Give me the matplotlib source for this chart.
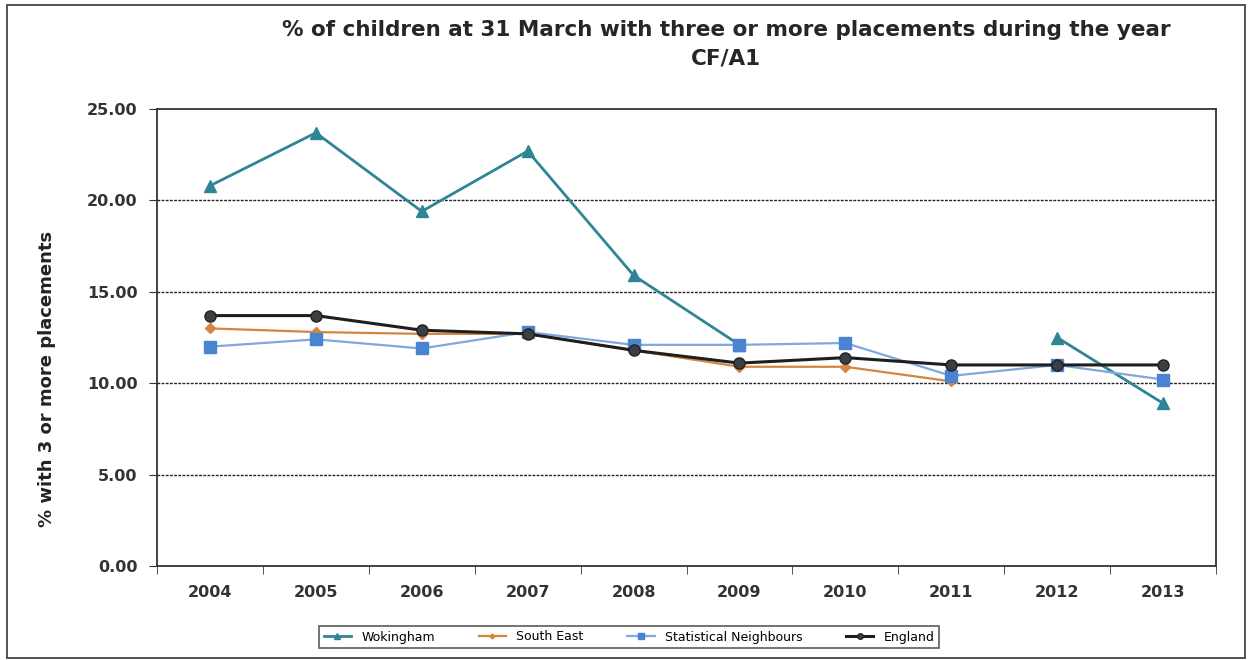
import numpy as np
import matplotlib
matplotlib.use("Agg")
import matplotlib.pyplot as plt
from matplotlib.patches import Rectangle

# Placement stability data (CF/A1)
years = ["2004", "2005", "2006", "2007", "2008", "2009", "2010", "2011", "2012", "2013"]
wokingham = [20.8, 23.7, 19.4, 22.7, 15.9, 12.1, np.nan, np.nan, 12.5, 8.9]
south_east = [13.0, 12.8, 12.7, 12.7, 11.8, 10.9, 10.9, 10.1, np.nan, np.nan]
stat_neighbours = [12.0, 12.4, 11.9, 12.8, 12.1, 12.1, 12.2, 10.4, 11.0, 10.2]
england = [13.7, 13.7, 12.9, 12.7, 11.8, 11.1, 11.4, 11.0, 11.0, 11.0]

fig = plt.figure(figsize=(12.48, 6.6), dpi=100)
ax = fig.add_axes([0.1258, 0.1424, 0.8486, 0.6924])

x = np.arange(len(years))
ax.plot(x, wokingham, color="#2f8496", lw=2, marker="^", ms=8, label="Wokingham", zorder=3)
ax.plot(x, south_east, color="#d4853f", lw=1.6, marker="D", ms=5, label="South East", zorder=3)
ax.plot(x, stat_neighbours, color="#7fa8dc", lw=1.6, marker="s", ms=8,
        mfc="#4a84d0", mec="#4a84d0", label="Statistical Neighbours", zorder=4)
ax.plot(x, england, color="#1e1e1e", lw=2.2, marker="o", ms=8,
        mfc="#3a3f45", mec="#222222", label="England", zorder=5)

ax.set_xlim(-0.5, len(years) - 0.5)
ax.set_ylim(0, 25)
ax.set_yticks(np.arange(0, 26, 5))
ax.set_yticklabels([f"{v:.2f}" for v in np.arange(0, 26, 5)])
ax.set_xticks(x)
ax.set_xticklabels(years)
ax.set_xticks(np.arange(-0.5, len(years), 1), minor=True)
ax.tick_params(axis="x", which="major", length=0, pad=14)
ax.tick_params(axis="x", which="minor", length=6, direction="out", color="#333333")
ax.tick_params(axis="y", length=6, direction="out", color="#333333", pad=8)
for lab in ax.get_xticklabels() + ax.get_yticklabels():
    lab.set_fontweight("bold")
    lab.set_fontsize(11.5)
    lab.set_color("#333333")

for v in [5, 10, 15, 20]:
    ax.axhline(v, color="#222222", lw=1, ls=(0, (2, 1)), zorder=1)
for sp in ax.spines.values():
    sp.set_color("#333333")
    sp.set_linewidth(1.3)

ax.set_ylabel("% with 3 or more placements", fontsize=13, fontweight="bold",
              color="#222222")
ax.yaxis.set_label_coords(-0.095, 0.41)

fig.text(0.582, 0.955, "% of children at 31 March with three or more placements during the year",
         ha="center", va="center", fontsize=15.5, fontweight="bold", color="#262626")
fig.text(0.582, 0.912, "CF/A1", ha="center", va="center", fontsize=15.5,
         fontweight="bold", color="#262626")

leg = fig.legend(loc="center", bbox_to_anchor=(629 / 1248, 1 - 637 / 660), ncol=4,
                 fontsize=9, frameon=True, fancybox=False, markerscale=0.5,
                 handlelength=2.2, columnspacing=3.5, borderpad=0.35)
leg.get_frame().set_edgecolor("#333333")
leg.get_frame().set_linewidth(1.2)

fig.patches.append(Rectangle((7 / 1248, 0.003), 1238 / 1248, 1 - 5 / 660 - 0.003,
                             transform=fig.transFigure, fill=False,
                             edgecolor="#444444", lw=1.3))

fig.savefig("out.png", dpi=100)
